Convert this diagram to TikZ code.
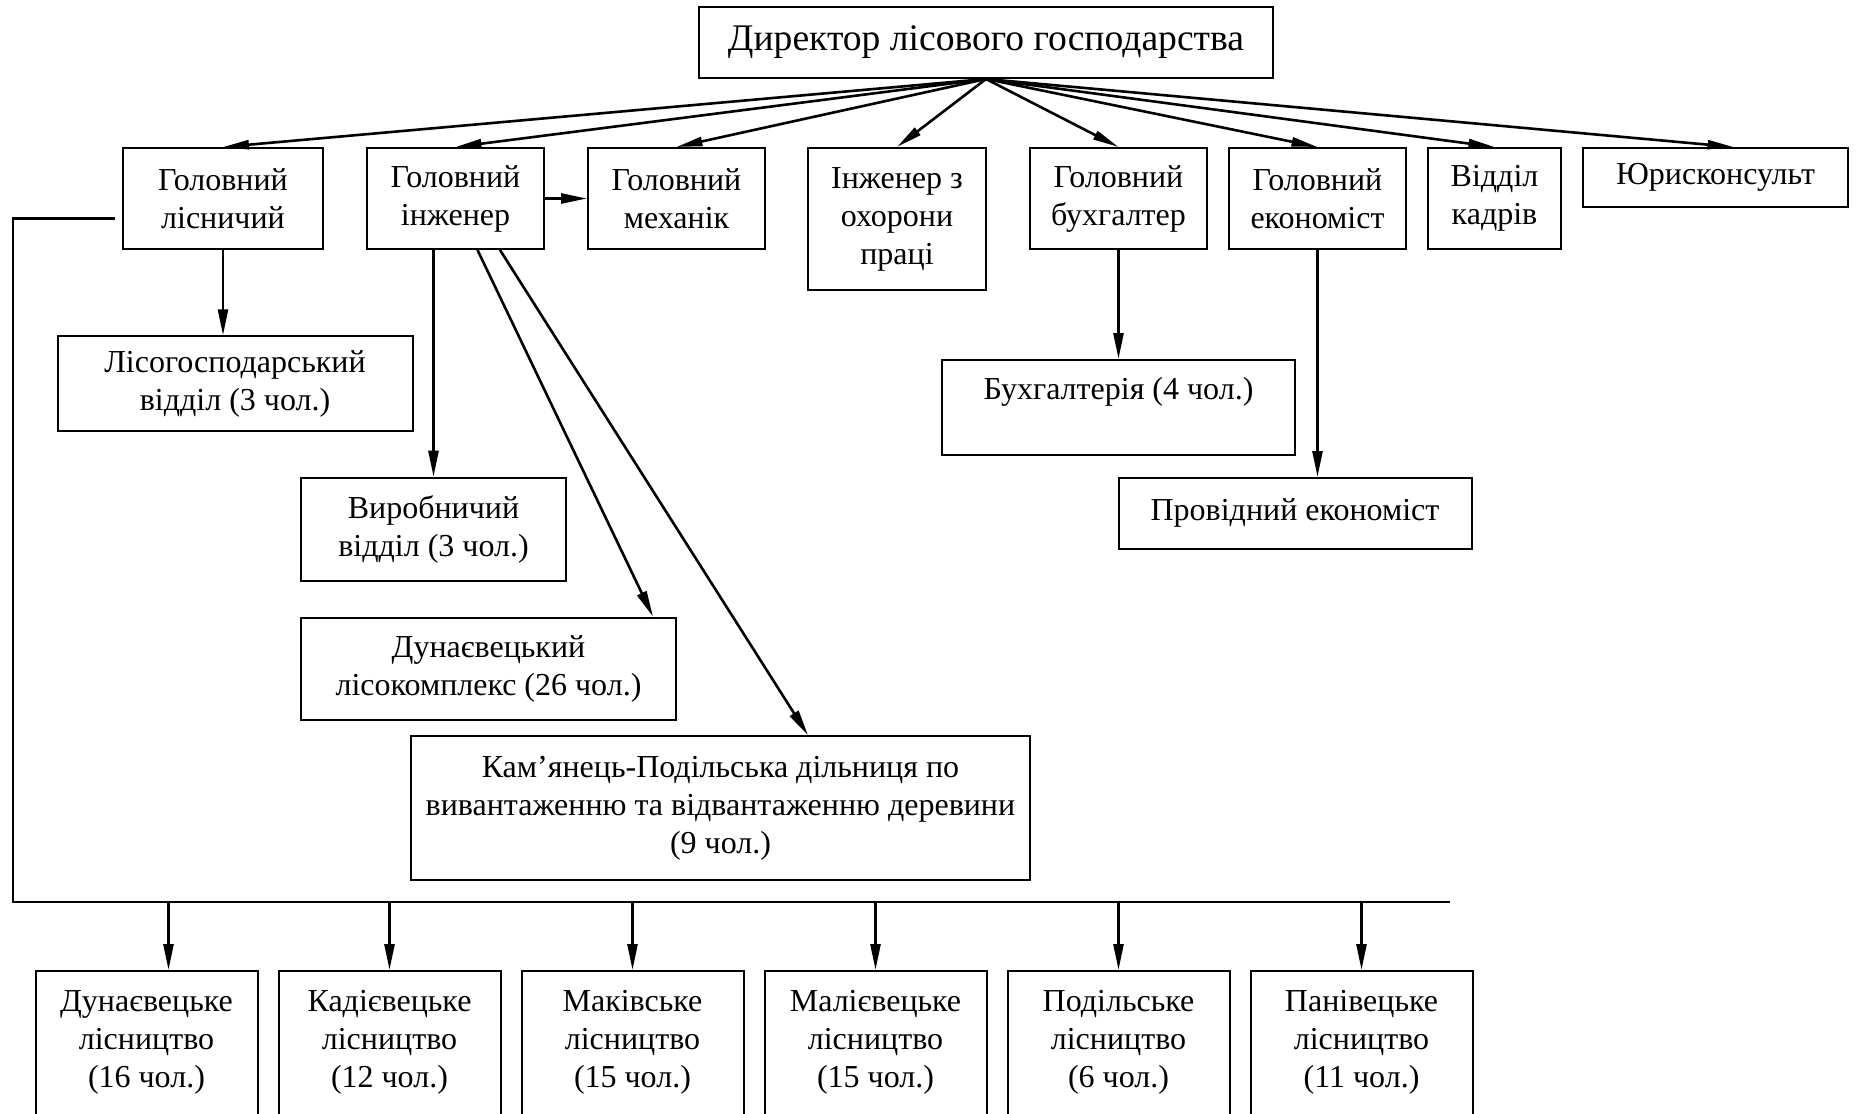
\documentclass[tikz,border=0pt]{standalone}
\usepackage{fontspec}
\setmainfont{Liberation Serif}
\usetikzlibrary{arrows.meta,calc}

\begin{document}
\begin{tikzpicture}[x=0.5pt, y=-0.5pt,
  box/.style={draw, line width=1pt, align=center, inner sep=0pt, font=\fontsize{16pt}{19pt}\selectfont},
  arr/.style={line width=1.3pt, -{Triangle[length=13pt,width=5pt]}},
  toparr/.style={line width=1.3pt, -{Triangle[length=13pt,width=4.5pt]}}]
\useasboundingbox (0,0) rectangle (1859,1114);

\node[box, minimum width=287pt, minimum height=35.5pt, font=\fontsize{18.8pt}{22pt}\selectfont] (dir) at (986,42.5) {Директор лісового господарства};

\node[box, minimum width=100pt, minimum height=50.5pt] (lisn) at (223,198.5) {Головний\\лісничий};
\node[box, minimum width=88.5pt, minimum height=50.5pt] (inzh) at (455.5,198.5) {Головний\\інженер};
\node[box, minimum width=88.5pt, minimum height=50.5pt] (mekh) at (676.5,198.5) {Головний\\механік};
\node[box, minimum width=89pt, minimum height=71pt] (okh) at (897,219) {Інженер з\\охорони\\праці};
\node[box, minimum width=88.5pt, minimum height=50.5pt] (buh) at (1118.5,198.5) {Головний\\бухгалтер};
\node[box, minimum width=88.5pt, minimum height=50.5pt] (ekon) at (1317.5,198.5) {Головний\\економіст};
\node[box, minimum width=66.5pt, minimum height=50.5pt] (kadr) at (1494.5,198.5) {Відділ\\кадрів};
\node[box, minimum width=132.5pt, minimum height=29.5pt] (yur) at (1715.5,177.5) {Юрисконсульт};

\node[box, minimum width=177.5pt, minimum height=47.3pt] (lgv) at (235,383.6) {Лісогосподарський\\відділ (3 чол.)};
\node[box, minimum width=176.5pt, minimum height=47.3pt] (buhg) at (1118.5,407.3) {Бухгалтерія (4 чол.)\\~};
\node[box, minimum width=132.5pt, minimum height=51.8pt] (vyr) at (433.5,529.5) {Виробничий\\відділ (3 чол.)};
\node[box, minimum width=176.5pt, minimum height=35.4pt] (prov) at (1295,513.4) {Провідний економіст};
\node[box, minimum width=187.5pt, minimum height=51.3pt] (lk) at (488.5,668.9) {Дунаєвецький\\лісокомплекс (26 чол.)};
\node[box, minimum width=309.5pt, minimum height=71.8pt] (kp) at (720.5,808) {Кам’янець-Подільська дільниця по\\вивантаженню та відвантаженню деревини\\(9 чол.)};

\coordinate (bus) at (13,902);
\coordinate (busend) at (1450,902);

\foreach \n in {lisn,inzh,mekh,okh,buh,ekon,kadr}
  \draw[toparr] (dir.south) -- (\n.north);
\draw[toparr] (dir.south) -- ($(yur.north)+(18,0)$);

\draw[arr] (inzh) -- (mekh);
\draw[arr] (lisn.south) -- (lisn.south |- lgv.north);
\draw[arr] (vyr.north |- inzh.south) -- (vyr.north);
\draw[arr] ($(inzh.south)+(22,0)$) -- ($(lk.north east)+(-24,0)$);
\draw[arr] ($(inzh.south)+(44.5,0)$) -- ($(kp.north)+(87.5,0)$);
\draw[arr] (buh.south) -- (buhg.north);
\draw[arr] (ekon.south) -- (ekon.south |- prov.north);

\draw[line width=1.2pt] ([shift={(-7,20)}]lisn.west) -| (bus) -- (busend);

\foreach \i/\nm/\k/\dx in {0/Дунаєвецьке/16/22, 1/Кадієвецьке/12/0, 2/Маківське/15/0, 3/Малієвецьке/15/0, 4/Подільське/6/0, 5/Панівецьке/11/0} {
  \node[box, minimum width=111pt, minimum height=87pt] (lis\i) at ({146.5+243*\i},1058) {\nm\\лісництво\\(\k~чол.)\\~};
  \coordinate (top\i) at ($(lis\i.north)+(\dx,0)$);
  \draw[arr] (top\i |- bus) -- (top\i);
}
\end{tikzpicture}
\end{document}
